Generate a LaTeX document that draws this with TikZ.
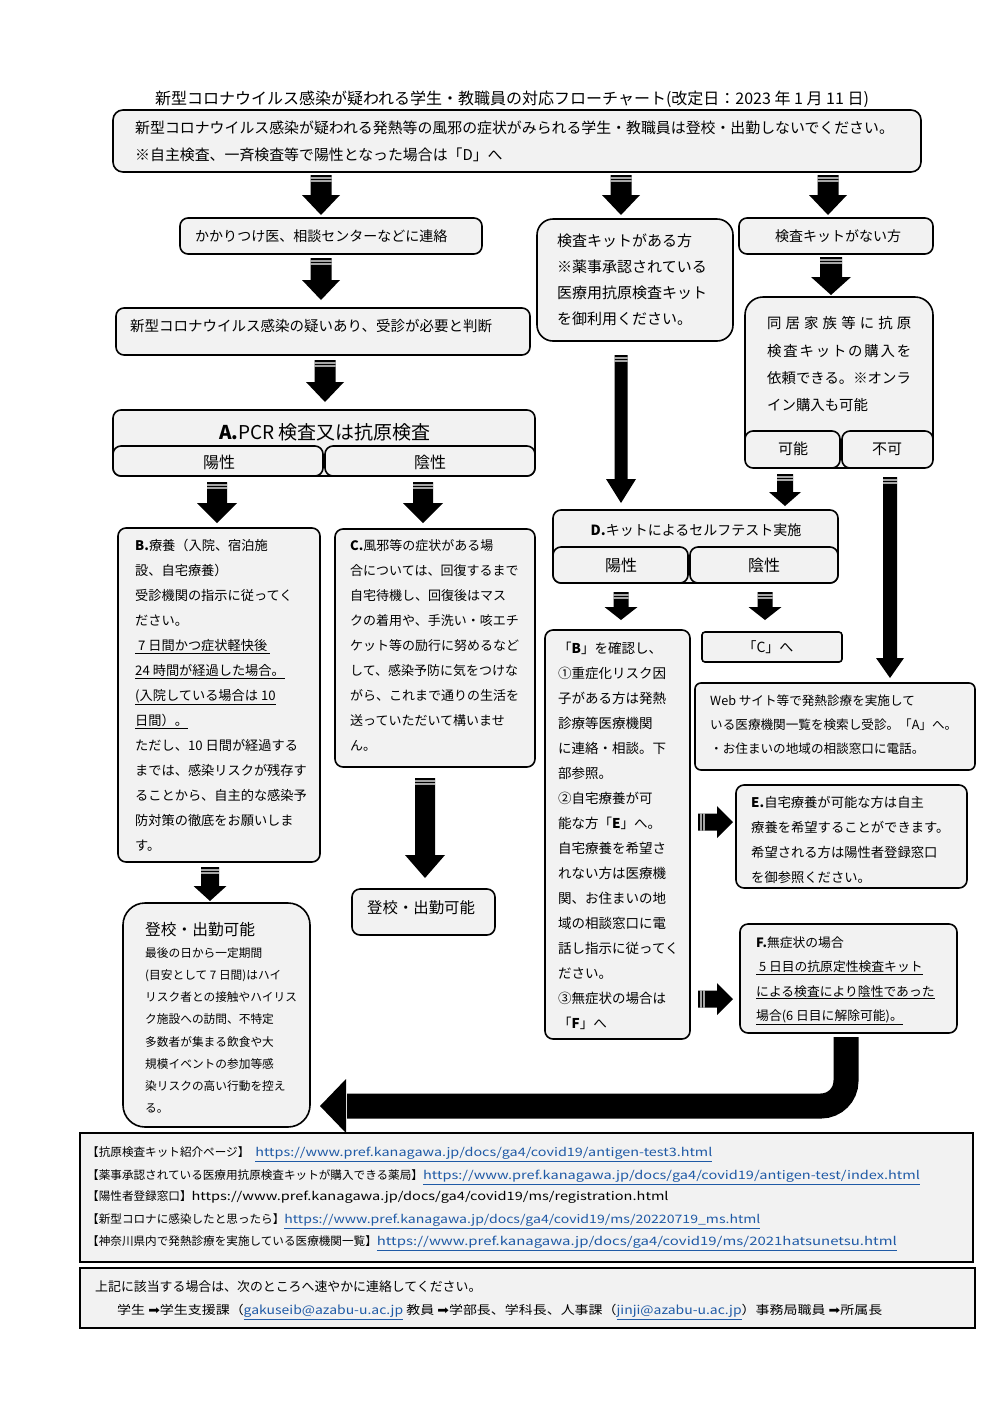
\documentclass[tikz,border=0pt]{standalone}
\usepackage{fontspec}
\usepackage{graphicx}
\setmainfont{Noto Sans CJK JP}
\newfontfamily\djv{DejaVu Sans}
\usetikzlibrary{calc}
\definecolor{boxgray}{HTML}{F2F2F2}
\definecolor{linkblue}{HTML}{1F5AA6}
\newcommand\setfs[2]{\fontsize{#1}{#2}\selectfont}
\newcommand\lnk[2]{\resizebox{#1pt}{\height}{\textcolor{linkblue}{\underline{#2}}}}
\newcommand\mybox[6][]{\node[fbox,#1,minimum width={(#5-#3)*1pt},minimum height={(#6-#4)*1pt}] (#2) at (#3,#4) {};}
% vertical block arrow: start, tip, shaft width, head width, head length
\newcommand\darrow[5]{%
  \fill let \p1=#1, \p2=#2 in
    (\x1-#3pt/2,\y1) -- (\x1+#3pt/2,\y1) -- (\x1+#3pt/2,\y2+#5pt) -- (\x1+#4pt/2,\y2+#5pt)
    -- (\x1,\y2) -- (\x1-#4pt/2,\y2+#5pt) -- (\x1-#3pt/2,\y2+#5pt) -- cycle;
  \fill[white] let \p1=#1 in
    (\x1-#3pt/2,\y1-2.4pt) rectangle (\x1+#3pt/2,\y1-3.5pt)
    (\x1-#3pt/2,\y1-5.4pt) rectangle (\x1+#3pt/2,\y1-6.5pt);
}
% horizontal block arrow to the right
\newcommand\rarrow[5]{%
  \fill let \p1=#1, \p2=#2 in
    (\x1,\y1+#3pt/2) -- (\x2-#5pt,\y1+#3pt/2) -- (\x2-#5pt,\y1+#4pt/2) -- (\x2,\y1)
    -- (\x2-#5pt,\y1-#4pt/2) -- (\x2-#5pt,\y1-#3pt/2) -- (\x1,\y1-#3pt/2) -- cycle;
  \fill[white] let \p1=#1 in
    (\x1+2.4pt,\y1-#3pt/2) rectangle (\x1+3.5pt,\y1+#3pt/2)
    (\x1+5.4pt,\y1-#3pt/2) rectangle (\x1+6.5pt,\y1+#3pt/2);
}
\begin{document}
\begin{tikzpicture}[x=1pt,y=-1pt,
  fbox/.style={draw,line width=1.6pt,fill=boxgray,rounded corners=8pt,inner sep=0pt,outer sep=0pt,anchor=north west},
  txt/.style={anchor=north west,inner sep=0pt,align=left},
  lbl/.style={inner sep=0pt}]
\useasboundingbox (0,0) rectangle (1000,1414);

% ---------- boxes ----------
\mybox[rounded corners=10pt]{top}{113}{110}{921}{172}
\mybox{kakari}{180}{218}{482}{254}
\mybox{utagai}{116}{308}{530}{355}
\mybox{A}{113}{410}{535}{476}
\mybox{Ay}{113}{446}{323}{476}
\mybox{An}{325}{446}{535}{476}
\mybox{B}{118}{528}{320}{862}
\mybox{C}{335}{529}{535}{767}
\mybox{tokoR}{352}{889}{495}{935}
\mybox[rounded corners=22pt]{tokoL}{123}{903}{310}{1127}
\mybox[rounded corners=16pt]{aru}{537}{219}{733}{341}
\mybox{nai}{739}{218}{933}{254}
\mybox[rounded corners=18pt]{doukyo}{745}{297}{933}{468}
\mybox{ka}{745}{431}{840}{468}
\mybox{fuka}{842}{431}{933}{468}
\mybox{D}{553}{510}{838}{583}
\mybox{Dy}{553}{547}{688}{583}
\mybox{Dn}{690}{547}{838}{583}
\mybox{Bk}{545}{630}{690}{1039}
\mybox[rounded corners=3pt]{Ce}{702}{632}{842}{662}
\mybox[rounded corners=6pt]{web}{695}{683}{975}{770}
\mybox{E}{736}{785}{967}{888}
\mybox{F}{740}{924}{957}{1033}
\mybox[rounded corners=0pt,line width=1.5pt]{foot1}{80}{1133}{973}{1262}
\mybox[rounded corners=0pt,line width=2.5pt]{foot2}{80}{1268}{975}{1328}

% ---------- texts ----------
\node[lbl,font=\setfs{16}{18}] (title) at (512,99) {新型コロナウイルス感染が疑われる学生・教職員の対応フローチャート(改定日：2023 年 1 月 11 日)};

\node[txt,font=\setfs{14.9}{27}] (ttop) at (135,121) {新型コロナウイルス感染が疑われる発熱等の風邪の症状がみられる学生・教職員は登校・出勤しないでください。\\
※自主検査、一斉検査等で陽性となった場合は「D」へ};

\node[lbl,anchor=west,font=\setfs{14}{16}] (tkakari) at (195,236) {かかりつけ医、相談センターなどに連絡};
\node[lbl,anchor=west,font=\setfs{14.5}{16}] (tutagai) at (130,326) {新型コロナウイルス感染の疑いあり、受診が必要と判断};

\node[lbl,font=\setfs{19}{20}] (tA) at (325,432) {\textbf{A.}PCR 検査又は抗原検査};
\node[lbl,font=\setfs{16}{18}] (tAy) at (219,462) {陽性};
\node[lbl,font=\setfs{16}{18}] (tAn) at (430,462) {陰性};

\node[txt,font=\setfs{13.2}{25}] (tB) at (135,538.9) {\textbf{B.}療養（入院、宿泊施\\
設、自宅療養）\\
受診機関の指示に従ってく\\
ださい。\\
\underline{\ 7 日間かつ症状軽快後\ }\\
\underline{24 時間が経過した場合。}\\
\underline{(入院している場合は 10}\\
\underline{日間）。}\\
ただし、10 日間が経過する\\
までは、感染リスクが残存す\\
ることから、自主的な感染予\\
防対策の徹底をお願いしま\\
す。};

\node[txt,font=\setfs{13}{25}] (tC) at (350,539) {\textbf{C.}風邪等の症状がある場\\
合については、回復するまで\\
自宅待機し、回復後はマス\\
クの着用や、手洗い・咳エチ\\
ケット等の励行に努めるなど\\
して、感染予防に気をつけな\\
がら、これまで通りの生活を\\
送っていただいて構いませ\\
ん。};

\node[lbl,anchor=west,font=\setfs{15.4}{17}] (ttokoR) at (367,908) {登校・出勤可能};
\node[lbl,anchor=west,font=\setfs{15.7}{17}] (ttokoL) at (145,930) {登校・出勤可能};
\node[txt,font=\setfs{11.7}{22.1}] (ttokoLb) at (145,947.6) {最後の日から一定期間\\
(目安として 7 日間)はハイ\\
リスク者との接触やハイリス\\
ク施設への訪問、不特定\\
多数者が集まる飲食や大\\
規模イベントの参加等感\\
染リスクの高い行動を控え\\
る。};

\node[txt,font=\setfs{15}{25.8}] (taru) at (557,234) {検査キットがある方\\
※薬事承認されている\\
医療用抗原検査キット\\
を御利用ください。};
\node[lbl,font=\setfs{14}{16}] (tnai) at (838,236) {検査キットがない方};

\node[txt,font=\setfs{14.4}{27.3}] (tdoukyo) at (767,316.4) {\makebox[144pt][l]{同\hfill 居\hfill 家\hfill 族\hfill 等\hfill に\hfill 抗\hfill 原}\\
\makebox[144pt][l]{検\hfill 査\hfill キ\hfill ッ\hfill ト\hfill の\hfill 購\hfill 入\hfill を}\\
依頼できる。※オンラ\\
イン購入も可能};
\node[lbl,font=\setfs{15}{17}] (tka) at (793,449) {可能};
\node[lbl,font=\setfs{15}{17}] (tfuka) at (887,449) {不可};

\node[lbl,font=\setfs{14}{16}] (tD) at (696,530) {\textbf{D.}キットによるセルフテスト実施};
\node[lbl,font=\setfs{16}{18}] (tDy) at (621,565) {陽性};
\node[lbl,font=\setfs{16}{18}] (tDn) at (764,565) {陰性};

\node[txt,font=\setfs{13.5}{25}] (tBk) at (558,641.8) {「\textbf{B}」を確認し、\\
①重症化リスク因\\
子がある方は発熱\\
診療等医療機関\\
に連絡・相談。下\\
部参照。\\
②自宅療養が可\\
能な方「\textbf{E}」へ。\\
自宅療養を希望さ\\
れない方は医療機\\
関、お住まいの地\\
域の相談窓口に電\\
話し指示に従ってく\\
ださい。\\
③無症状の場合は\\
「\textbf{F}」へ};

\node[lbl,font=\setfs{14}{16}] (tCe) at (768,647) {「C」へ};

\node[txt,font=\setfs{12.6}{24}] (tweb) at (710,694.2) {Web サイト等で発熱診療を実施して\\
いる医療機関一覧を検索し受診。「A」へ。\\
・お住まいの地域の相談窓口に電話。};

\node[txt,font=\setfs{13.3}{25}] (tE) at (751,795.9) {\textbf{E.}自宅療養が可能な方は自主\\
療養を希望することができます。\\
希望される方は陽性者登録窓口\\
を御参照ください。};

\node[txt,font=\setfs{12.8}{24.5}] (tF) at (756,936.1) {\textbf{F.}無症状の場合\\
\underline{\ 5 日目の抗原定性検査キット}\\
\underline{による検査により陰性であった}\\
\underline{場合(6 日目に解除可能)。}};

% footer 1
\node[lbl,anchor=base west,font=\setfs{11.6}{13}] (f1) at (87,1156.4) {【抗原検査キット紹介ページ】\hspace{6pt}\lnk{457}{https://www.pref.kanagawa.jp/docs/ga4/covid19/antigen-test3.html}};
\node[lbl,anchor=base west,font=\setfs{11.6}{13}] (f2) at (87,1179.4) {【薬事承認されている医療用抗原検査キットが購入できる薬局】\lnk{497}{https://www.pref.kanagawa.jp/docs/ga4/covid19/antigen-test/index.html}};
\node[lbl,anchor=base west,font=\setfs{11.6}{13}] (f3) at (87,1200.6) {【陽性者登録窓口】\resizebox{477pt}{\height}{https://www.pref.kanagawa.jp/docs/ga4/covid19/ms/registration.html}};
\node[lbl,anchor=base west,font=\setfs{11.6}{13}] (f4) at (87,1223.4) {【新型コロナに感染したと思ったら】\lnk{476}{https://www.pref.kanagawa.jp/docs/ga4/covid19/ms/20220719\_ms.html}};
\node[lbl,anchor=base west,font=\setfs{11.6}{13}] (f5) at (87,1245.4) {【神奈川県内で発熱診療を実施している医療機関一覧】\lnk{520}{https://www.pref.kanagawa.jp/docs/ga4/covid19/ms/2021hatsunetsu.html}};

% footer 2
\node[lbl,anchor=base west,font=\setfs{12.9}{14}] (g1) at (95,1291.9) {上記に該当する場合は、次のところへ速やかに連絡してください。};
\node[lbl,anchor=base west,font=\setfs{12}{14}] (g2) at (117,1314.6) {\resizebox{765pt}{\height}{学生 {\djv ➡}学生支援課（\textcolor{linkblue}{\underline{gakuseib@azabu-u.ac.jp}} 教員 {\djv ➡}学部長、学科長、人事課（\textcolor{linkblue}{\underline{jinji@azabu-u.ac.jp}}）事務局職員 {\djv ➡}所属長}};

% ---------- connectors ----------
\coordinate (cA) at (321,0);
\coordinate (cB) at (621,0);
\coordinate (cC) at (828,0);
\coordinate (cE) at (325,0);
\coordinate (cF) at (217,0);
\coordinate (cG) at (423,0);
\coordinate (cH) at (425,0);
\coordinate (cI) at (210,0);
\coordinate (cJ) at (831,0);
\coordinate (cK) at (785,0);
\coordinate (cL) at (890,0);
\coordinate (cM) at (765,0);
\coordinate (rE) at (0,822);
\coordinate (rF) at (0,999);
\coordinate (uc) at (846,1106);

\darrow{($(top.south -| cA)+(0,3)$)}{($(kakari.north -| cA)+(0,-3)$)}{21}{38}{20}
\darrow{($(top.south -| cB)+(0,3)$)}{($(aru.north -| cB)+(0,-4)$)}{21}{38}{20}
\darrow{($(top.south -| cC)+(0,3)$)}{($(nai.north -| cC)+(0,-3)$)}{21}{38}{20}
\darrow{($(kakari.south -| cA)+(0,4)$)}{($(utagai.north -| cA)+(0,-8)$)}{21}{38}{20}
\darrow{($(utagai.south -| cE)+(0,5)$)}{($(A.north -| cE)+(0,-8)$)}{21}{38}{20}
\darrow{($(Ay.south -| cF)+(0,6)$)}{($(B.north -| cF)+(0,-5)$)}{20}{40}{20}
\darrow{($(An.south -| cG)+(0,6)$)}{($(C.north -| cG)+(0,-6)$)}{20}{40}{20}
\darrow{($(C.south -| cH)+(0,11)$)}{($(tokoR.north -| cH)+(0,-11)$)}{20}{40}{23}
\darrow{($(B.south -| cI)+(0,5)$)}{($(tokoL.north -| cI)+(0,-2)$)}{18}{33}{15}
\darrow{($(nai.south -| cJ)+(0,3)$)}{($(doukyo.north -| cJ)+(0,-2)$)}{22}{40}{18}
\darrow{($(aru.south -| cB)+(0,14)$)}{($(D.north -| cB)+(0,-7)$)}{13}{30}{24}
\darrow{($(ka.south -| cK)+(0,6)$)}{($(D.north -| cK)+(0,-4)$)}{16}{32}{14}
\darrow{($(fuka.south -| cL)+(0,9)$)}{($(web.north -| cL)+(0,-5)$)}{14}{28}{20}
\darrow{($(Dy.south -| cB)+(0,9)$)}{($(Bk.north -| cB)+(0,-10)$)}{15}{33}{13}
\darrow{($(Dn.south -| cM)+(0,9)$)}{($(Ce.north -| cM)+(0,-12)$)}{15}{33}{13}
\rarrow{($(Bk.east |- rE)+(8,0)$)}{($(E.west |- rE)+(-3,0)$)}{17}{32}{16}
\rarrow{($(Bk.east |- rF)+(8,0)$)}{($(F.west |- rF)+(-7,0)$)}{17}{32}{16}

\draw[line width=25pt,rounded corners=25pt] ($(F.south -| uc)+(0,4)$) -- (uc) -- ($(tokoL.east |- uc)+(37,0)$);
\fill let \p1=($(tokoL.east |- uc)+(10,0)$) in (\x1,\y1) -- (\x1+26pt,\y1+27pt) -- (\x1+26pt,\y1-27pt) -- cycle;
\end{tikzpicture}
\end{document}
